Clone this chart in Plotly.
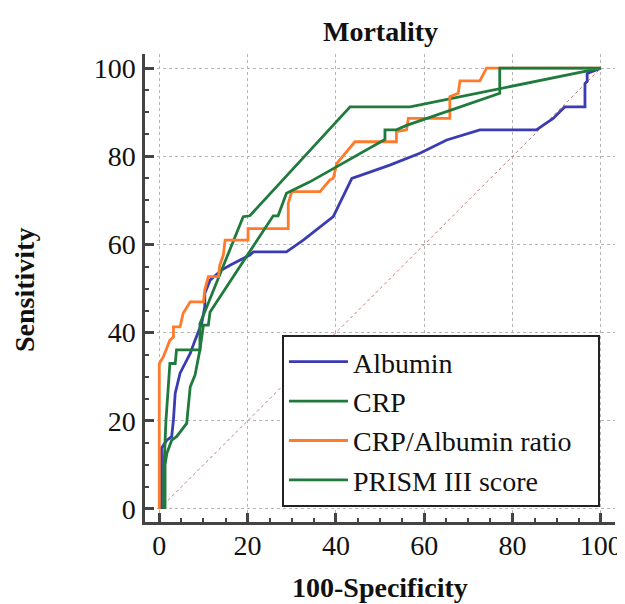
import plotly.graph_objects as go

# ---- data ----
albumin_x = [0.5, 0.5, 1.7, 2.8, 3.2, 3.6, 4.7, 7.0, 8.1, 9.6, 10.3, 10.3, 11.5, 14.1, 16.0, 20.5, 21.3,
             28.8, 32.6, 39.4, 43.6, 52.2, 59.0, 65.1, 72.6, 85.4, 89.2, 91.8, 96.4, 96.4, 96.9, 96.9, 100]
albumin_y = [0, 13.8, 15.6, 16.4, 20.2, 26.2, 30.8, 35.3, 38.3, 42.1, 45.9, 48.9, 51.9, 54.2, 55.3, 57.6, 58.3,
             58.3, 61.0, 66.3, 75.0, 78.0, 80.7, 83.7, 86.0, 86.0, 88.6, 91.2, 91.2, 96.5, 97.0, 98.8, 100]

crp_x = [1.0, 1.0, 1.5, 2.4, 3.6, 3.9, 9.2, 9.2, 19.0, 20.5, 43.2, 56.8, 100]
crp_y = [0, 8, 20, 33, 33, 36.1, 36.1, 42.0, 66.3, 66.5, 91.2, 91.2, 100]

ratio_x = [0, 0, 0.9, 2.4, 3.2, 3.2, 4.7, 5.4, 7.0, 10.0, 10.3, 11.1, 13.4, 13.7, 14.5, 14.9, 14.9, 20.1, 20.1,
           29.2, 29.2, 30.0, 36.4, 38.6, 39.4, 40.2, 44.3, 53.7, 53.7, 56.0, 56.4, 65.8, 65.8, 67.7, 68.1,
           72.6, 74.1, 100]
ratio_y = [0, 33.0, 34.5, 38.3, 39.0, 41.3, 41.3, 44.4, 47.0, 47.0, 49.7, 52.7, 52.7, 55.3, 57.6, 60.2, 61.0,
           61.0, 63.6, 63.6, 69.3, 72.0, 72.0, 74.6, 75.0, 78.4, 83.3, 83.3, 85.6, 86.0, 88.6, 88.6, 93.5,
           94.3, 97.1, 97.1, 100, 100]

prism_x = [1.3, 1.3, 1.7, 2.8, 3.9, 6.2, 7.0, 8.1, 9.2, 10.0, 11.1, 11.5, 25.8, 26.9, 28.8, 30.0, 34.1,
           51.1, 51.1, 53.7, 56.0, 77.1, 77.1, 100]
prism_y = [0, 10, 12.6, 15.6, 16.4, 19.4, 27.7, 30.4, 36.1, 41.7, 41.7, 44.7, 66.5, 66.5, 71.6, 72.2, 74.2,
           83.8, 86.0, 86.0, 87.0, 94.3, 100, 100]

ref_x = [0, 100]
ref_y = [0, 100]

tick_vals = [0, 20, 40, 60, 80, 100]

FONT = "Liberation Serif"
BLUE = "#3b3bb3"
GREEN = "#1f7a3c"
ORANGE = "#ff7b2c"
PAD = "\u00a0\u00a0\u00a0"  # right padding inside the legend box

fig = go.Figure()
fig.add_trace(go.Scatter(x=ref_x, y=ref_y, mode="lines", showlegend=False,
                         line=dict(color="#c07a7a", width=1, dash="dot")))
fig.add_trace(go.Scatter(x=albumin_x, y=albumin_y, mode="lines", name="Albumin",
                         line=dict(color=BLUE, width=2.8)))
fig.add_trace(go.Scatter(x=crp_x, y=crp_y, mode="lines", name="CRP",
                         line=dict(color=GREEN, width=2.8)))
fig.add_trace(go.Scatter(x=ratio_x, y=ratio_y, mode="lines", name="CRP/Albumin ratio" + PAD,
                         line=dict(color=ORANGE, width=2.8)))
fig.add_trace(go.Scatter(x=prism_x, y=prism_y, mode="lines", name="PRISM III score",
                         line=dict(color=GREEN, width=2.8)))

axis_common = dict(
    tickvals=tick_vals, ticks="inside", ticklen=9, tickwidth=2.5, tickcolor="#444",
    showline=True, linewidth=2.5, linecolor="#444",
    showgrid=True, gridcolor="#b5b5b5", griddash="dot", gridwidth=1,
    zeroline=False, automargin=False,
    tickfont=dict(family=FONT, size=28, color="#111"),
    minor=dict(dtick=5, tick0=0, ticks="inside", ticklen=4, tickwidth=1.5, tickcolor="#444", showgrid=False),
)

# the page adds an 8px body margin, so the figure is 8px smaller and shifted up-left
fig.update_layout(
    width=617, height=596,
    margin=dict(l=137, r=10, t=46, b=82),
    plot_bgcolor="white", paper_bgcolor="white",
    font=dict(family=FONT, size=28, color="#111"),
    xaxis=dict(range=[-3.24, 103.2], ticklabelstandoff=-3, **axis_common),
    yaxis=dict(range=[-2.95, 103.2], ticklabelstandoff=1, **axis_common),
    legend=dict(x=0.968, y=0.032, xanchor="right", yanchor="bottom",
                bgcolor="white", bordercolor="#222", borderwidth=2,
                font=dict(family=FONT, size=28, color="#111"),
                itemwidth=59, tracegroupgap=0),
    annotations=[
        dict(text="<b>Mortality</b>", x=0.5, y=1.049, xref="paper", yref="paper",
             xanchor="center", yanchor="middle", showarrow=False,
             font=dict(family=FONT, size=28, color="#111")),
        dict(text="<b>100-Specificity</b>", x=0.5, y=-0.141, xref="paper", yref="paper",
             xanchor="center", yanchor="middle", showarrow=False,
             font=dict(family=FONT, size=28, color="#111")),
        dict(text="<b>Sensitivity</b>", x=-0.255, y=0.496, xref="paper", yref="paper",
             xanchor="center", yanchor="middle", showarrow=False, textangle=-90,
             font=dict(family=FONT, size=28, color="#111")),
    ],
)

fig.write_html("out.html")
